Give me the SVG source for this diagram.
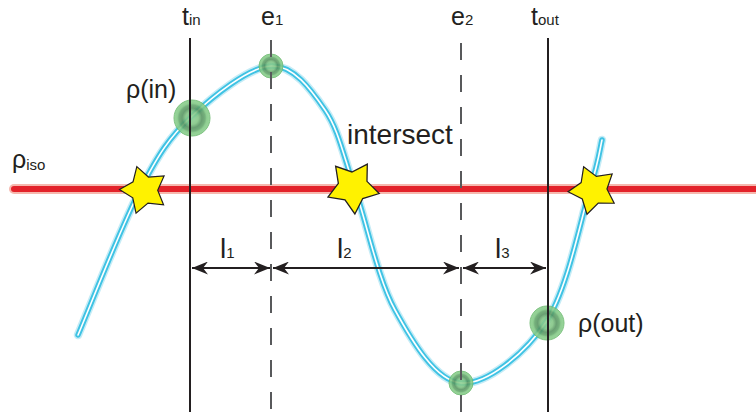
<svg xmlns="http://www.w3.org/2000/svg" width="756" height="412" viewBox="0 0 756 412">
<defs>
<style>
text{font-family:"Liberation Sans",Arial,sans-serif;fill:#231f20}
.big{font-size:25px}
.sub{font-size:15px}
.solid{stroke:#231f20;stroke-width:2;fill:none}
.dash{stroke:#58595b;stroke-width:2;stroke-dasharray:17 15;fill:none}
.dim{stroke:#231f20;stroke-width:2;fill:none;marker-start:url(#ah);marker-end:url(#ah)}
.star{fill:#fff200;stroke:#231f20;stroke-width:1.2;stroke-linejoin:miter}
.dot{fill:url(#gg);stroke:#6dbb70;stroke-width:1;opacity:0.88}
</style>
<marker id="ah" viewBox="0 0 16 13" refX="16" refY="6.5" markerWidth="16" markerHeight="13" markerUnits="userSpaceOnUse" orient="auto-start-reverse">
<path d="M16,6.5 L0,0 L5,6.5 L0,13 Z" fill="#231f20"/>
</marker>
<radialGradient id="gg">
<stop offset="0" stop-color="#92d295"/>
<stop offset="0.35" stop-color="#80c483"/>
<stop offset="0.55" stop-color="#55935f"/>
<stop offset="0.72" stop-color="#62a56a"/>
<stop offset="0.82" stop-color="#80c883"/>
<stop offset="1" stop-color="#8ccf8e"/>
</radialGradient>
<path id="st" d="M0,-25 L8.2,-11.3 L23.78,-7.73 L13.3,4.3 L14.69,20.23 L0,14 L-14.69,20.23 L-13.3,4.3 L-23.78,-7.73 L-8.2,-11.3 Z"/>
<path id="cv" d="M78,335 C88.3,310.8 121.2,226.3 140,190 C158.8,153.7 169.2,137.7 191,117 C212.8,96.3 248.7,67.2 271,66 C293.3,64.8 311,89.5 325,110 C339,130.5 343.3,155.7 355,189 C366.7,222.3 377.3,277.7 395,310 C412.7,342.3 435.8,381 461,383 C486.2,385 524.5,354.3 546,322 C567.5,289.7 580.7,219.3 590,189 C599.3,158.7 600,148.2 602,140" fill="none" stroke-linecap="round"/>
</defs>

<g id="iso-line">
<line x1="14" y1="189" x2="756" y2="189" stroke="#f6b8ae" stroke-width="10" stroke-linecap="round"/>
<line x1="14" y1="189" x2="756" y2="189" stroke="#e3222a" stroke-width="6" stroke-linecap="round"/>
</g>

<g id="curve">
<use href="#cv" stroke="#c6ecf6" stroke-width="8.5"/>
<use href="#cv" stroke="#3fc3e4" stroke-width="5.5"/>
<use href="#cv" stroke="#ffffff" stroke-width="1.6"/>
</g>

<g id="points">
<circle class="dot" cx="192" cy="118" r="18"/>
<circle class="dot" cx="271" cy="66" r="12"/>
<circle class="dot" cx="461" cy="383" r="12"/>
<circle class="dot" cx="547" cy="323" r="17"/>
</g>

<g id="connectors">
<line class="solid" x1="190" y1="38" x2="190" y2="412"/>
<line class="solid" x1="548" y1="38" x2="548" y2="412"/>
<line class="dash" x1="271" y1="40" x2="271" y2="412"/>
<line class="dash" x1="461" y1="43" x2="461" y2="412"/>
<line class="dim" x1="192" y1="268" x2="270" y2="268"/>
<line class="dim" x1="273" y1="268" x2="459" y2="268"/>
<line class="dim" x1="463" y1="268" x2="546" y2="268"/>
</g>

<g id="stars">
<use href="#st" class="star" transform="translate(144,190) rotate(-17) scale(0.98)"/>
<use href="#st" class="star" transform="translate(353,187) rotate(32) scale(1.08)"/>
<use href="#st" class="star" transform="translate(593,190) rotate(-22) scale(1.0)"/>
</g>

<g id="labels">
<text x="182" y="25" class="big">t<tspan class="sub">in</tspan></text>
<text x="261" y="25" class="big">e<tspan class="sub">1</tspan></text>
<text x="451" y="25" class="big">e<tspan class="sub">2</tspan></text>
<text x="531" y="25" class="big">t<tspan class="sub">out</tspan></text>
<text x="12" y="168" class="big">ρ<tspan class="sub" dy="2">iso</tspan></text>
<text x="126" y="98" class="big">ρ(in)</text>
<text x="578" y="332" class="big">ρ(out)</text>
<text x="347" y="144" style="font-size:28px">intersect</text>
<text x="220" y="258" style="font-size:28px">l<tspan class="sub">1</tspan></text>
<text x="337" y="258" style="font-size:28px">l<tspan class="sub">2</tspan></text>
<text x="495" y="258" style="font-size:28px">l<tspan class="sub">3</tspan></text>
</g>
</svg>
